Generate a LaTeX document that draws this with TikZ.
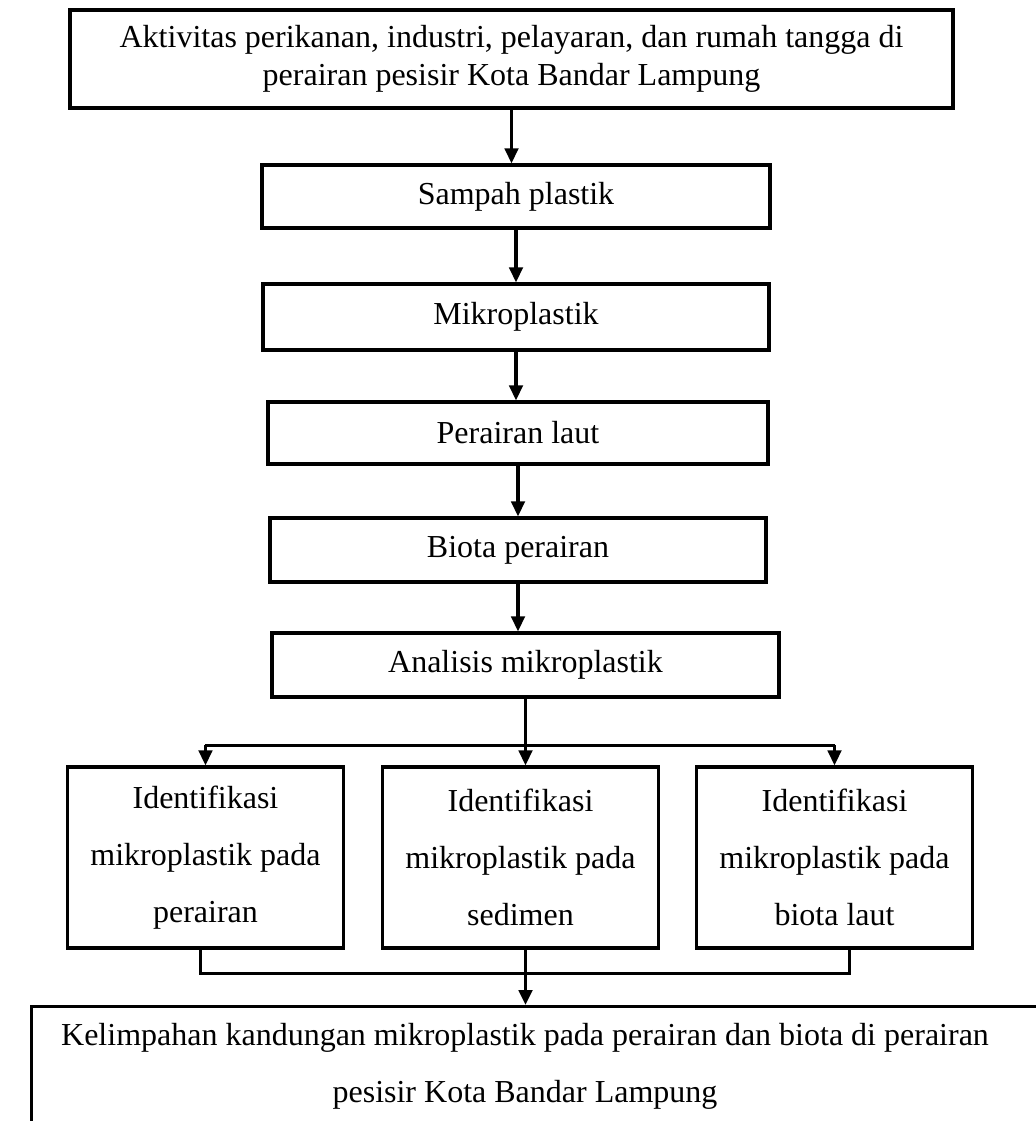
\documentclass[tikz,border=0pt]{standalone}
\usepackage{fontspec}
\setmainfont{Liberation Serif}
\usetikzlibrary{positioning,arrows.meta,calc}

\begin{document}
\begin{tikzpicture}[x=0.4pt,y=-0.4pt,
    box/.style={draw,line width=1.3pt,align=center,inner sep=2pt,
                font=\fontsize{12.8}{15.2}\selectfont},
    tallbox/.style={box,minimum width=110.4pt,minimum height=72.4pt,
                font=\fontsize{12.8}{22.8}\selectfont},
    line/.style={line width=1.3pt},
    arrow/.style={line,-{Triangle[width=5.4pt,length=6pt]}}]
  \useasboundingbox (0,0) rectangle (1035,1121);

  % main chain
  \node[box,minimum width=353.2pt,minimum height=39.2pt] (top) at (511.5,59)
    {Aktivitas perikanan, industri, pelayaran, dan rumah tangga di\\
     perairan pesisir Kota Bandar Lampung};
  \node[box,minimum width=203.2pt,minimum height=25.2pt,
        below=21.5pt of top,xshift=1.8pt] (samp) {Sampah plastik};
  \node[box,minimum width=202.4pt,minimum height=26.4pt,
        below=21.1pt of samp] (mikro) {Mikroplastik};
  \node[box,minimum width=200pt,minimum height=24.8pt,
        below=19.5pt of mikro,xshift=0.8pt] (laut) {Perairan laut};
  \node[box,minimum width=198.4pt,minimum height=25.6pt,
        below=20.3pt of laut] (biota) {Biota perairan};
  \node[box,minimum width=202.8pt,minimum height=25.6pt,
        below=19.1pt of biota,xshift=3pt] (ana) {Analisis mikroplastik};

  \draw[arrow] (top.south) -- (top.south |- samp.north);
  \draw[arrow] (samp.south) -- (samp.south |- mikro.north);
  \draw[arrow] (mikro.south) -- (mikro.south |- laut.north);
  \draw[arrow] (laut.south) -- (laut.south |- biota.north);
  \draw[arrow] (biota.south) -- (biota.south |- ana.north);

  % three identification boxes
  \node[tallbox,below=26.7pt of ana,xshift=-2pt] (mid)
    {Identifikasi\\ mikroplastik pada\\ sedimen};
  \node[tallbox,left=14.3pt of mid] (lft)
    {Identifikasi\\ mikroplastik pada\\ perairan};
  \node[tallbox,right=13.9pt of mid] (rgt)
    {Identifikasi\\ mikroplastik pada\\ biota laut};

  \coordinate (split) at ([yshift=-18.6pt]ana.south);
  \draw[line] (split -| lft.north) -- (split -| rgt.north);
  \draw[arrow] (ana.south) -- (ana.south |- mid.north);
  \draw[arrow] (split -| lft.north) -- (lft.north);
  \draw[arrow] (split -| rgt.north) -- (rgt.north);

  % result
  \node[draw,line width=1.3pt,anchor=north west,minimum width=440pt,
        minimum height=80pt] (bot) at (30,1005) {};
  \node[font=\fontsize{12.8}{22.8}\selectfont,align=center] (bottxt) at (525,1066)
    {Kelimpahan kandungan mikroplastik pada perairan dan biota di perairan\\
     pesisir Kota Bandar Lampung};

  \coordinate (merge) at ([yshift=-9.4pt]mid.south);
  \draw[line] ([xshift=-2pt]lft.south) |- (merge) -| ([xshift=6pt]rgt.south);
  \draw[arrow] (mid.south -| ana.south) -- (ana.south |- bot.north);
\end{tikzpicture}
\end{document}
